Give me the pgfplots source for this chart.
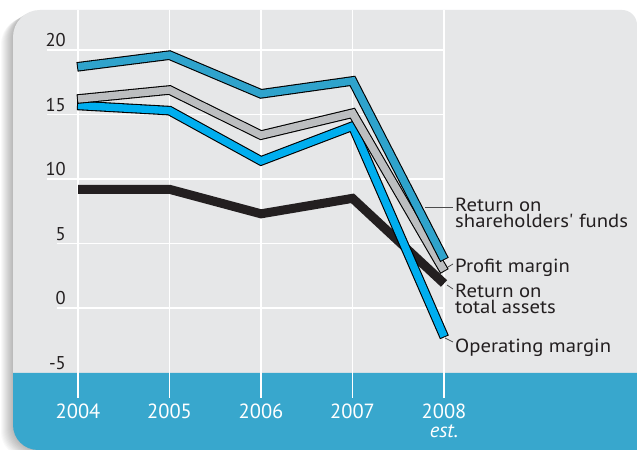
\documentclass[border=0pt]{standalone}
\usepackage{fontspec}
\setmainfont{PT Sans}
\newfontfamily\lab{PT Sans}[FakeStretch=1.09]
\usepackage{pgfplots}
\pgfplotsset{compat=1.18}
\definecolor{panel}{HTML}{E6E7E8}
\definecolor{band}{HTML}{38A7CD}
\definecolor{rosf}{HTML}{2FA3CC}
\definecolor{opm}{HTML}{00AEEF}
\definecolor{prof}{HTML}{BCBEC0}
\definecolor{rota}{HTML}{231F20}
\definecolor{txt}{HTML}{231F20}

\pgfplotstableread{
year rosf prof opm rota
2004 18.7 16.2 15.7 9.2
2005 19.6 16.9 15.3 9.2
2006 16.6 13.4 11.4 7.3
2007 17.6 15.1 14.1 8.5
2008 3.8  2.9  -2.2 1.9
}\datatable

\begin{document}
\begin{tikzpicture}[x=1bp,y=1bp]
\useasboundingbox (0,0) rectangle (637,450);
\fill[white] (0,0) rectangle (637,450);
% soft shadow
\foreach \i in {1,...,12}{
  \fill[black,opacity=0.025,shift={(-\i,-0.6*\i)}] (38,0) arc[start angle=270,end angle=180,radius=25] -- (13,413) arc[start angle=180,end angle=90,radius=27] -- (622,440) arc[start angle=90,end angle=0,radius=15] -- (637,0) -- cycle;
}
% panel
\fill[panel] (13,77) -- (13,413) arc[start angle=180,end angle=90,radius=27] -- (622,440) arc[start angle=90,end angle=0,radius=15] -- (637,77) -- cycle;
% band
\fill[band] (13,77) -- (13,25) arc[start angle=180,end angle=270,radius=25] -- (637,0) -- (637,77) -- cycle;

\begin{axis}[
  at={(47bp,52bp)}, anchor=south west,
  scale only axis, width=397bp, height=388bp,
  xmin=2003.661, xmax=2008, ymin=-6.977, ymax=23.101,
  clip=false,
  axis line style={draw=none},
  major tick length=0pt,
  xtick={2004,2005,2006,2007,2008},
  xticklabels={2004,2005,2006,2007,2008},
  ytick={-5,0,5,10,15,20},
  yticklabels={-5,0,5,10,15,20},
  xmajorgrids,
  grid style={white, line width=1.3bp},
  xticklabel style={font=\fontsize{20.5bp}{20bp}\selectfont, text=white, anchor=base, inner sep=0pt, yshift=-21bp},
  yticklabel style={font=\fontsize{18.5bp}{18bp}\selectfont, text=txt, anchor=base east, inner sep=0pt, xshift=19bp, yshift=3bp},
]
% horizontal grid lines
\draw[white, line width=1.3bp] (axis cs:2003.661,20) -- (axis cs:2008,20);
\draw[white, line width=1.3bp] (axis cs:2003.661,15) -- (axis cs:2008,15);
\draw[white, line width=1.3bp] (axis cs:2003.661,10) -- (axis cs:2008,10);
\draw[white, line width=1.3bp] (axis cs:2003.77,5) -- (axis cs:2008,5);
\draw[white, line width=1.3bp] (axis cs:2003.77,0) -- (axis cs:2008,0);

\addplot[rota, line width=9bp, line join=miter] table[x=year, y=rota] {\datatable};
\addplot[black, line width=9.6bp, line join=miter, forget plot, shorten >=-1bp, shorten <=-1bp] table[x=year, y=opm] {\datatable};
\addplot[opm, line width=7.4bp, line join=miter] table[x=year, y=opm] {\datatable};
\addplot[black, line width=9.6bp, line join=miter, forget plot, shorten >=-1bp, shorten <=-1bp] table[x=year, y=prof] {\datatable};
\addplot[prof, line width=7.4bp, line join=miter] table[x=year, y=prof] {\datatable};
\addplot[black, line width=9.6bp, line join=miter, forget plot, shorten >=-1bp, shorten <=-1bp] table[x=year, y=rosf] {\datatable};
\addplot[rosf, line width=7.4bp, line join=miter] table[x=year, y=rosf] {\datatable};
\end{axis}

\node[font=\fontsize{20.5bp}{20bp}\selectfont\itshape, text=white, anchor=base, inner sep=0pt] at (444,12) {est.};

% connectors
\draw[black!70, line width=0.8bp] (425,243) -- (453,243);
\draw[black!70, line width=0.8bp] (448,183) -- (453,186);
\draw[black!70, line width=0.8bp] (447,165) -- (453,161);
\draw[black!70, line width=0.8bp] (445,112) -- (453,108);

\begin{scope}[every node/.style={font=\lab\fontsize{19bp}{15.5bp}\selectfont, text=txt, anchor=base west, inner sep=0pt, align=left}]
\node at (455,222.5) {Return on\\shareholders{\char"27} funds};
\node at (455,177) {Profit margin};
\node at (455,136.5) {Return on\\total assets};
\node at (455,97) {Operating margin};
\end{scope}
\end{tikzpicture}
\end{document}
